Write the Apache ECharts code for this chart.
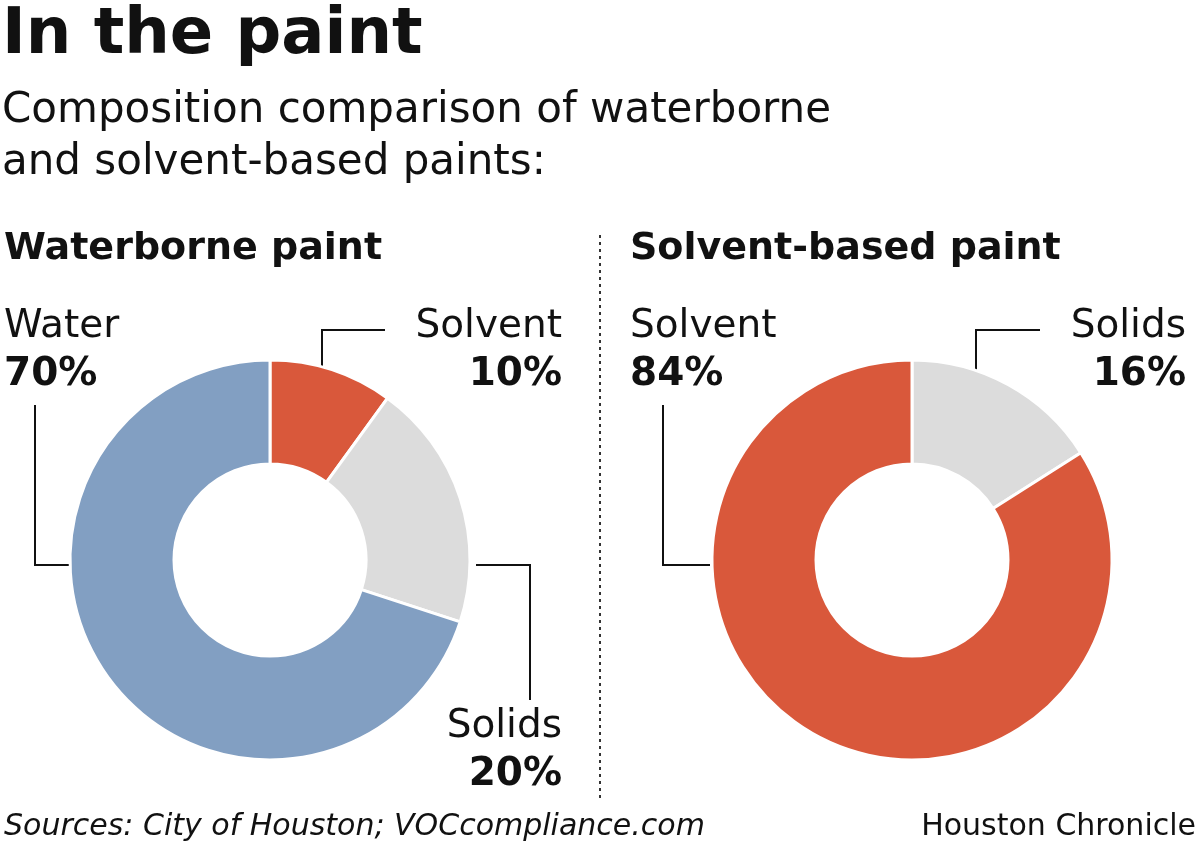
<!DOCTYPE html>
<html><head><meta charset="utf-8">
<script src="https://cdn.jsdelivr.net/npm/echarts@6/dist/echarts.min.js"></script>
<style>html,body{margin:0;background:#fff}#c{width:1200px;height:855px}</style>
</head><body><div id="c"></div>
<script>
const waterNames = ['Solvent', 'Solids', 'Water']
const waterValues = [10, 20, 70]
const waterColors = ['#d9583b', '#dcdcdc', '#829fc2']
const solventNames = ['Solids', 'Solvent']
const solventValues = [16, 84]
const solventColors = ['#dcdcdc', '#d9583b']

const font = '"DejaVu Sans", sans-serif'
const chart = echarts.init(document.getElementById('c'))

function pie(names, values, colors, cx) {
    return {
        type: 'pie', center: [cx, 560], radius: [96, 200],
        startAngle: 90, clockwise: true, silent: true, animation: false,
        label: { show: false },
        itemStyle: { borderColor: '#fff', borderWidth: 3 },
        data: names.map((n, i) => ({ name: n, value: values[i], itemStyle: { color: colors[i] } }))
    }
}
function txt(x, y, s, size, weight, align, style, fam) {
    return { type: 'text', x, y, style: { text: s, font: `${style || 'normal'} ${weight} ${size}px ${fam || font}`, fill: '#111', align: align || 'left', verticalAlign: 'top' } }
}
function line(pts) {
    return { type: 'polyline', shape: { points: pts }, style: { stroke: '#111', lineWidth: 2, fill: null } }
}

chart.setOption({
    series: [
        pie(waterNames, waterValues, waterColors, 270),
        pie(solventNames, solventValues, solventColors, 912)
    ],
    graphic: [
        txt(2, 4, 'In the paint', 64, 'bold'),
        txt(2, 90, 'Composition comparison of waterborne', 42, 'normal'),
        txt(2, 142, 'and solvent-based paints:', 42, 'normal'),
        txt(4, 230, 'Waterborne paint', 38, 'bold'),
        txt(630, 230, 'Solvent-based paint', 38, 'bold'),
        { type: 'line', shape: { x1: 600, y1: 235, x2: 600, y2: 800 }, style: { stroke: '#333', lineWidth: 2, lineDash: [3, 4] } },
        txt(4, 307, 'Water', 39, 'normal'),
        txt(4, 355, `${waterValues[2]}%`, 39, 'bold'),
        line([[35, 405], [35, 565], [70, 565]]),
        txt(562, 307, 'Solvent', 39, 'normal', 'right'),
        txt(562, 355, `${waterValues[0]}%`, 39, 'bold', 'right'),
        line([[385, 330], [322, 330], [322, 370]]),
        txt(562, 707, 'Solids', 39, 'normal', 'right'),
        txt(562, 755, `${waterValues[1]}%`, 39, 'bold', 'right'),
        line([[476, 565], [530, 565], [530, 700]]),
        txt(630, 307, 'Solvent', 39, 'normal'),
        txt(630, 355, `${solventValues[1]}%`, 39, 'bold'),
        line([[663, 405], [663, 565], [710, 565]]),
        txt(1186, 307, 'Solids', 39, 'normal', 'right'),
        txt(1186, 355, `${solventValues[0]}%`, 39, 'bold', 'right'),
        line([[1040, 330], [976, 330], [976, 370]]),
        txt(4, 812, 'Sources: City of Houston; VOCcompliance.com', 30, 'normal', 'left', 'italic'),
        txt(1196, 812, 'Houston Chronicle', 30, 'normal', 'right')
    ]
})
</script></body></html>
